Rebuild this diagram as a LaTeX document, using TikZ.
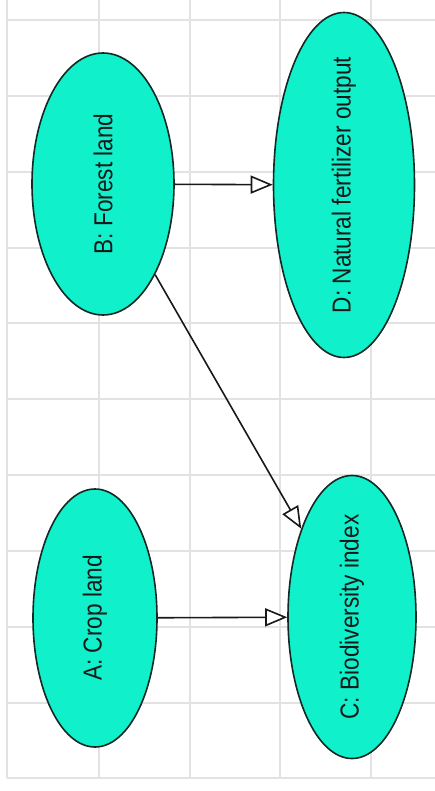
\documentclass[tikz,border=0pt]{standalone}
\usepackage{fontspec}
\setmainfont{Liberation Sans}
\usetikzlibrary{shapes.geometric,arrows.meta}
\definecolor{gridgray}{RGB}{226,226,228}
\definecolor{mint}{RGB}{16,240,202}
\definecolor{rim}{RGB}{20,40,38}
\tikzset{
  bubble/.style={ellipse, draw=rim, line width=1.6pt, fill=mint, inner sep=0pt},
  lbl/.style={inner sep=0pt, font=\fontsize{22.6}{26}\selectfont, text=black!90},
  link/.style={draw=black!90, line width=1.6pt,
    -{Triangle[length=22pt,width=18pt,fill=white,line width=1.6pt]}},
}
\newcommand{\vtext}[1]{\rotatebox{90}{\scalebox{1}[1.15]{#1}}}
\begin{document}
\begin{tikzpicture}[x=1pt,y=-1pt]
  \useasboundingbox (0,0) rectangle (435,791);
  \fill[white] (0,0) rectangle (435,791);
  % background grid
  \foreach \gx in {7,99,190,280,371}
    \draw[gridgray, line width=1.4pt] (\gx,0) -- (\gx,778);
  \foreach \gy in {20,96,172,248,323,399,475,551,627,703,778}
    \draw[gridgray, line width=1.4pt] (7,\gy) -- (435,\gy);
  % variables
  \node[bubble, minimum width=142pt, minimum height=262pt] (B) at (103,184) {};
  \node[bubble, minimum width=141pt, minimum height=345pt] (D) at (344,185) {};
  \node[bubble, minimum width=124pt, minimum height=258pt] (A) at (95,618) {};
  \node[bubble, minimum width=128pt, minimum height=283pt] (C) at (352,617) {};
  \node[lbl] (Bt) at (B.center) {\vtext{B: Forest land}};
  \node[lbl] (Dt) at (D.center) {\vtext{D: Natural fertilizer output}};
  \node[lbl] (At) at (A.center) {\vtext{A: Crop land}};
  \node[lbl] (Ct) at (C.center) {\vtext{C: Biodiversity index}};
  % relations
  \draw[link] (B) -- (D);
  \draw[link] (B) -- (C);
  \draw[link] (A) -- (C);
\end{tikzpicture}
\end{document}
